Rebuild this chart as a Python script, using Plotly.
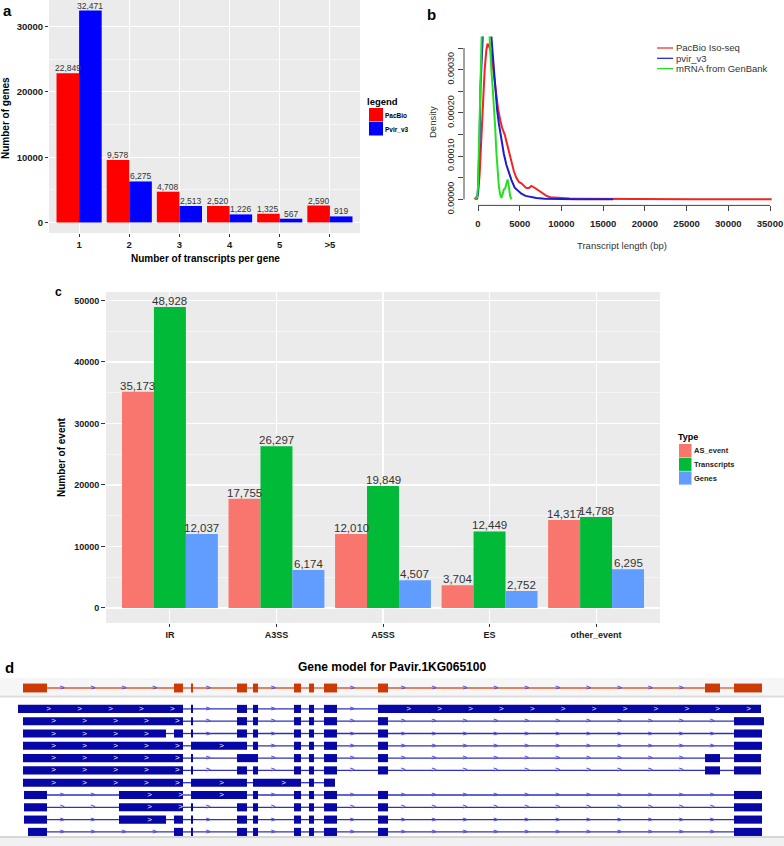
import plotly.graph_objects as go

W, H = 784, 846
FONT = "Liberation Sans, Arial, Helvetica, sans-serif"


def fx(px):
    return px / W


def fy(py):
    return 1 - py / H


# ---------------- Panel a : transcripts per gene ----------------
a_categories = ["1", "2", "3", "4", "5", ">5"]
a_pacbio = [22849, 9578, 4708, 2520, 1325, 2590]
a_pvir_v3 = [32471, 6275, 2513, 1226, 567, 919]
a_yticks = [0, 10000, 20000, 30000]
a_yminor = [5000, 15000, 25000]

# ---------------- Panel b : transcript length density ----------------
b_iso_x = [-400, 0, 200, 400, 600, 800, 1000, 1150, 1300, 1500, 1800, 2100, 2400, 2700,
           2900, 3200, 3400, 3700, 4000, 4300, 4600, 4900, 5200, 5500, 5800, 6100, 6400,
           6700, 7000, 7300, 7600, 7900, 8300, 8700, 9200, 10000, 11000, 12000, 13500,
           15000, 16500, 18000, 19500, 20300, 21000, 23000, 26000, 30000, 33000, 35200]
b_iso_y = [0, 1.0e-5, 6e-5, 1.5e-4, 2.3e-4, 3.0e-4, 3.45e-4, 3.6e-4, 3.55e-4, 3.45e-4,
           3.05e-4, 2.55e-4, 2.1e-4, 1.8e-4, 1.65e-4, 1.5e-4, 1.35e-4, 1.1e-4, 8.5e-5,
           6.5e-5, 5.0e-5, 4.0e-5, 3.7e-5, 3.2e-5, 2.6e-5, 2.6e-5, 3.1e-5, 2.8e-5, 2.4e-5,
           2.0e-5, 1.7e-5, 1.2e-5, 7e-6, 5e-6, 4e-6, 3e-6, 2e-6, 1.5e-6, 1.2e-6, 1e-6,
           8e-7, 7e-7, 6e-7, 1.5e-6, 5e-7, 4e-7, 3e-7, 2e-7, 1e-7, 0]
b_pvir_x = [-250, -100, 0, 100, 200, 300, 400, 500, 700, 900, 1100, 1300, 1500, 1700, 1900,
            2100, 2300, 2500, 2700, 2900, 3100, 3400, 3700, 4000, 4400, 4800, 5200, 5700,
            6300, 7000, 8000, 9000, 10500, 12000, 14000, 16200]
b_pvir_y = [0, 2e-6, 2e-5, 8e-5, 1.5e-4, 2.6e-4, 3.5e-4, 4.2e-4, 4.9e-4, 5.2e-4, 5.0e-4,
            4.5e-4, 3.9e-4, 3.35e-4, 2.9e-4, 2.45e-4, 2.05e-4, 1.75e-4, 1.5e-4, 1.25e-4,
            1.05e-4, 8.0e-5, 6.0e-5, 4.5e-5, 2.7e-5, 2.0e-5, 1.3e-5, 8e-6, 5e-6, 3e-6,
            1.5e-6, 8e-7, 4e-7, 2e-7, 1e-7, 0]
b_mrna_x = [-250, -100, 0, 100, 200, 300, 400, 500, 700, 900, 1100, 1300, 1450, 1600, 1750,
            1900, 2050, 2200, 2350, 2500, 2650, 2800, 2950, 3100, 3250, 3400, 3550, 3700,
            3850, 4000]
b_mrna_y = [0, 5e-6, 3e-5, 1e-4, 1.9e-4, 2.8e-4, 3.6e-4, 4.3e-4, 5.0e-4, 5.2e-4, 4.8e-4,
            4.0e-4, 3.4e-4, 3.0e-4, 2.6e-4, 2.2e-4, 1.7e-4, 1.1e-4, 6e-5, 3e-5, 1.2e-5,
            3e-6, 1.2e-5, 2.3e-5, 2.5e-5, 4.0e-5, 4.6e-5, 3.0e-5, 8e-6, 0]
b_names = ["PacBio Iso-seq", "pvir_v3", "mRNA from GenBank"]
b_colors = ["#f02424", "#1c1cd0", "#22e022"]
b_xticks = [0, 5000, 10000, 15000, 20000, 25000, 30000, 35000]
b_yticks = [0, 0.00005, 0.0001, 0.00015, 0.0002, 0.00025, 0.0003, 0.00035]
b_yticktext = ["0.00000", "", "0.00010", "", "0.00020", "", "0.00030", ""]

# ---------------- Panel c : AS events ----------------
c_categories = ["IR", "A3SS", "A5SS", "ES", "other_event"]
c_as_event = [35173, 17755, 12010, 3704, 14317]
c_transcripts = [48928, 26297, 19849, 12449, 14788]
c_genes = [12037, 6174, 4507, 2752, 6295]
c_types = ["AS_event", "Transcripts", "Genes"]
c_colors = ["#F8766D", "#00BA38", "#619CFF"]
c_yticks = [0, 10000, 20000, 30000, 40000, 50000]
c_yminor = [5000, 15000, 25000, 35000, 45000]

# ---------------- Panel d : gene model (relative bp) ----------------
d_title = "Gene model for Pavir.1KG065100"
d_gene_model = [(230, 470), (1740, 1830), (1910, 1930), (2370, 2470), (2530, 2580),
                (2940, 3010), (3090, 3140), (3240, 3370), (3780, 3880), (7050, 7200),
                (7340, 7620)]
d_transcripts = [
    [(180, 1830), (1910, 1930), (2370, 2470), (2530, 2580), (2940, 3010), (3090, 3140),
     (3240, 3370), (3780, 7610)],
    [(230, 1830), (1910, 1930), (2370, 2470), (2530, 2580), (2940, 3010), (3090, 3140),
     (3240, 3370), (3780, 3880), (7340, 7640)],
    [(230, 1660), (1740, 1830), (1910, 1930), (2370, 2470), (2530, 2580), (2940, 3010),
     (3090, 3140), (3240, 3370), (3780, 3880), (7340, 7620)],
    [(230, 1830), (1910, 2470), (2530, 2580), (2940, 3010), (3090, 3140), (3240, 3370),
     (3780, 3880), (7340, 7620)],
    [(230, 1830), (1910, 1930), (2370, 2580), (2940, 3010), (3090, 3140), (3240, 3370),
     (3780, 3880), (7050, 7200), (7340, 7610)],
    [(230, 1830), (1910, 1930), (2370, 2470), (2530, 2580), (2940, 3010), (3090, 3140),
     (3240, 3370), (3780, 3880), (7050, 7200), (7340, 7610)],
    [(230, 1830), (1910, 2470), (2530, 3010), (3090, 3140), (3240, 3350)],
    [(240, 470), (1190, 1830), (1910, 2470), (2530, 2580), (2940, 3010), (3090, 3140),
     (3240, 3370), (3780, 3880), (7340, 7620)],
    [(240, 470), (1190, 1830), (1910, 1930), (2370, 2470), (2530, 2580), (2940, 3010),
     (3090, 3140), (3240, 3370), (3780, 3880), (7340, 7620)],
    [(240, 470), (1190, 1660), (1740, 1830), (1910, 1930), (2370, 2470), (2530, 2580),
     (2940, 3010), (3090, 3140), (3240, 3370), (3780, 3880), (7340, 7620)],
    [(280, 470), (1740, 1830), (1910, 1930), (2370, 2470), (2530, 2580), (2940, 3010),
     (3090, 3140), (3240, 3370), (3780, 3880), (7340, 7620)],
]

fig = go.Figure()
annotations = []

# ---------- panel a traces ----------
a_series = [("PacBio", a_pacbio, "#FF0000"), ("Pvir_v3", a_pvir_v3, "#0000FF")]
for k, (name, vals, col) in enumerate(a_series):
    fig.add_trace(go.Bar(
        x=a_categories, y=vals, name=name, marker=dict(color=col, line=dict(width=0)),
        xaxis="x", yaxis="y", showlegend=False, hoverinfo="skip"))
    off = (k - 0.5) * 0.45
    for i, v in enumerate(vals):
        annotations.append(dict(xref="x", yref="y", x=i + off, y=v, text=f"{v:,}",
                                showarrow=False, yanchor="bottom", xanchor="center", yshift=-2,
                                font=dict(size=8.5, color="#333333", family=FONT)))

# ---------- panel b traces ----------
for xs, ys, col in [(b_iso_x, b_iso_y, b_colors[0]), (b_pvir_x, b_pvir_y, b_colors[1]),
                    (b_mrna_x, b_mrna_y, b_colors[2])]:
    fig.add_trace(go.Scatter(x=xs, y=ys, mode="lines", line=dict(color=col, width=2),
                             xaxis="x2", yaxis="y2", showlegend=False, hoverinfo="skip"))

# ---------- panel c traces ----------
c_series = [c_as_event, c_transcripts, c_genes]
for k, (name, vals, col) in enumerate(zip(c_types, c_series, c_colors)):
    fig.add_trace(go.Bar(
        x=c_categories, y=vals, name=name, marker=dict(color=col, line=dict(width=0)),
        xaxis="x3", yaxis="y3", showlegend=False, hoverinfo="skip"))
    off = (k - 1) * 0.3
    for i, v in enumerate(vals):
        annotations.append(dict(xref="x3", yref="y3", x=i + off, y=v, text=f"{v:,}",
                                showarrow=False, yanchor="bottom", xanchor="center", yshift=-2,
                                font=dict(size=11.5, color="#333333", family=FONT)))

# ---------- panel d traces ----------
ROW_RED = 0.0
rows_blue = [1.7 + i for i in range(len(d_transcripts))]
PXU = 12.3  # pixels per row unit


def vrow(py):
    return (py - 688) / PXU


def add_track(exons, row, exon_col, line_col, h):
    lx, ly, ax, ay, cx, cy = [], [], [], [], [], []
    for (s1, e1), (s2, e2) in zip(exons[:-1], exons[1:]):
        if s2 > e1:
            lx += [e1, s2, None]
            ly += [row, row, None]
            p = e1 + 150
            while p < s2 - 40:
                ax.append(p)
                ay.append(row)
                p += 309
    for s, e in exons:
        p = s + 307
        while p < e - 10:
            cx.append(p)
            cy.append(row)
            p += 309
    fig.add_trace(go.Scatter(x=lx, y=ly, mode="lines", line=dict(color=line_col, width=1.3),
                             xaxis="x4", yaxis="y4", showlegend=False, hoverinfo="skip"))
    fig.add_trace(go.Bar(orientation="h", base=[s for s, e in exons], x=[e - s for s, e in exons],
                         y=[row] * len(exons), width=h, offset=-h / 2,
                         marker=dict(color=exon_col, line=dict(width=0)),
                         xaxis="x4", yaxis="y4", showlegend=False, hoverinfo="skip"))
    if ax:
        fig.add_trace(go.Scatter(x=ax, y=ay, mode="text", text=[">"] * len(ax),
                                 textfont=dict(size=8, color="#4c4cdc", family=FONT, weight="bold"),
                                 xaxis="x4", yaxis="y4", showlegend=False, hoverinfo="skip"))
    if cx:
        fig.add_trace(go.Scatter(x=cx, y=cy, mode="text", text=[">"] * len(cx),
                                 textfont=dict(size=8, color="#ffffff", family=FONT),
                                 xaxis="x4", yaxis="y4", showlegend=False, hoverinfo="skip"))


add_track(d_gene_model, ROW_RED, "#cc3a06", "#e0582c", 0.72)
for ex, r in zip(d_transcripts, rows_blue):
    add_track(ex, r, "#0707a6", "#3030c0", 0.66)

# ---------- shapes ----------
shapes = []
for xa, ya in [("x", "y"), ("x3", "y3")]:
    shapes.append(dict(type="rect", xref=f"{xa} domain", yref=f"{ya} domain", x0=0, x1=1, y0=0, y1=1,
                       fillcolor="#EBEBEB", line=dict(width=0), layer="below"))
# panel b axis lines (base R style: from first to last tick)
shapes.append(dict(type="line", xref="x2", yref="y2 domain", x0=min(b_xticks), x1=max(b_xticks),
                   y0=0, y1=0, line=dict(color="#444444", width=1)))
shapes.append(dict(type="line", xref="x2 domain", yref="y2", x0=0, x1=0, y0=min(b_yticks),
                   y1=max(b_yticks), line=dict(color="#444444", width=1)))
# panel d track background
shapes += [
    dict(type="rect", xref="paper", yref="y4", x0=0, x1=1, y0=vrow(678), y1=vrow(695.5),
         fillcolor="#f6f6f6", line=dict(width=0), layer="below"),
    dict(type="line", xref="paper", yref="y4", x0=0, x1=1, y0=vrow(696.5), y1=vrow(696.5),
         line=dict(color="#dcdcdc", width=2), layer="below"),
    dict(type="line", xref="paper", yref="y4", x0=0, x1=1, y0=vrow(837), y1=vrow(837),
         line=dict(color="#d6d6d6", width=2), layer="below"),
    dict(type="rect", xref="paper", yref="y4", x0=0, x1=1, y0=vrow(838), y1=vrow(846),
         fillcolor="#f1f1f1", line=dict(width=0), layer="below"),
]


def txt(x, y, s, size, bold=False, color="#000000", xanchor="center", angle=0):
    annotations.append(dict(xref="paper", yref="paper", x=fx(x), y=fy(y), text=s, showarrow=False,
                            xanchor=xanchor, yanchor="middle", textangle=angle, borderpad=0,
                            font=dict(size=size, color=color, family=FONT,
                                      weight="bold" if bold else "normal")))


# legend a
txt(366, 102, "legend", 9.5, True, xanchor="left")
for i, (lab, col) in enumerate([("PacBio", "#FF0000"), ("Pvir_v3", "#0000FF")]):
    y0 = 108 + i * 14
    shapes.append(dict(type="rect", xref="paper", yref="paper", x0=fx(369), x1=fx(383),
                       y0=fy(y0 + 13.5), y1=fy(y0), fillcolor=col, line=dict(width=0)))
    txt(384, y0 + 7, lab, 6.5, True, xanchor="left")

# legend b
for i, (lab, col) in enumerate(zip(b_names, b_colors)):
    yy = 48 + i * 10.3
    shapes.append(dict(type="line", xref="paper", yref="paper", x0=fx(657), x1=fx(673),
                       y0=fy(yy), y1=fy(yy), line=dict(color=col, width=1.2)))
    txt(675, yy, lab, 9.5, False, "#333333", xanchor="left")

# legend c
txt(677, 437, "Type", 9, True, xanchor="left")
for i, (lab, col) in enumerate(zip(c_types, c_colors)):
    y0 = 444 + i * 13.7
    shapes.append(dict(type="rect", xref="paper", yref="paper", x0=fx(679), x1=fx(691.5),
                       y0=fy(y0 + 13.2), y1=fy(y0), fillcolor=col, line=dict(width=0)))
    txt(693, y0 + 6.8, lab, 7.5, True, "#222222", xanchor="left")

# panel letters, axis titles
txt(8, 10, "a", 15, True)
txt(431, 14, "b", 15, True)
txt(58, 292, "c", 12, True)
txt(9, 667, "d", 15, True)
txt(392, 667, d_title, 12, True)
txt(205, 258, "Number of transcripts per gene", 10, True)
txt(6, 118, "Number of genes", 10, True, angle=-90)
txt(433, 122, "Density", 9.5, False, "#333333", angle=-90)
txt(622, 245, "Transcript length (bp)", 9.5, False, "#333333")
txt(62, 457, "Number of event", 10, True, angle=-90)

tick_bold = dict(size=9.5, color="#1a1a1a", family=FONT, weight="bold")
common = dict(automargin=False, fixedrange=True, zeroline=False, showline=False)

fig.update_layout(
    template="none",
    width=W, height=H, margin=dict(l=0, r=0, t=0, b=0, pad=0),
    paper_bgcolor="white", plot_bgcolor="rgba(0,0,0,0)",
    barmode="group", bargap=0.1, bargroupgap=0,
    hovermode=False, showlegend=False,
    font=dict(family=FONT),
    shapes=shapes, annotations=annotations,
    # panel a
    xaxis=dict(domain=[fx(49), fx(360)], anchor="y", type="category", range=[-0.6, 5.6],
               showgrid=True, gridcolor="white", gridwidth=1.1, ticks="outside", ticklen=3,
               tickcolor="#333333", tickfont=tick_bold, **common),
    yaxis=dict(domain=[fy(233), fy(0)], anchor="x", range=[-1624, 34095], tickvals=a_yticks,
               ticktext=[str(v) for v in a_yticks],
               showgrid=True, gridcolor="white", gridwidth=1.1, ticks="outside", ticklen=3,
               tickcolor="#333333", tickfont=tick_bold,
               minor=dict(tickvals=a_yminor, showgrid=True, gridcolor="white", gridwidth=0.5,
                          ticks=""), **common),
    # panel b
    xaxis2=dict(domain=[fx(464), 1.0], anchor="y2", range=[-1678, 36678], tickvals=b_xticks,
                ticktext=[str(v) for v in b_xticks],
                showgrid=False, ticks="outside", ticklen=5,
                tickcolor="#444444", ticklabelstandoff=4,
                tickfont=dict(size=9.5, color="#222222", family=FONT, weight="bold"), **common),
    yaxis2=dict(domain=[fy(205.4), fy(36.4)], anchor="x2", range=[-0.000014, 0.000377],
                tickvals=b_yticks, ticktext=b_yticktext, tickangle=-90, showgrid=False,
                ticks="outside", ticklen=5, tickcolor="#444444",
                tickfont=dict(size=9, color="#222222", family=FONT), **common),
    # panel c
    xaxis3=dict(domain=[fx(106), fx(660)], anchor="y3", type="category", range=[-0.6, 4.6],
                showgrid=True, gridcolor="white", gridwidth=1.1, ticks="outside", ticklen=3,
                tickcolor="#333333", tickfont=dict(size=9, color="#1a1a1a", family=FONT,
                                                   weight="bold"), **common),
    yaxis3=dict(domain=[fy(623), fy(292)], anchor="x3", range=[-2446, 51374], tickvals=c_yticks,
                ticktext=[str(v) for v in c_yticks],
                showgrid=True, gridcolor="white", gridwidth=1.1, ticks="outside", ticklen=4,
                tickcolor="#333333", tickfont=dict(size=9, color="#1a1a1a", family=FONT,
                                                   weight="bold"),
                minor=dict(tickvals=c_yminor, showgrid=True, gridcolor="white", gridwidth=0.5,
                           ticks=""), **common),
    # panel d
    xaxis4=dict(domain=[0, 1], anchor="y4", range=[0, 7840], visible=False, **common),
    yaxis4=dict(domain=[0, fy(672)], anchor="x4", range=[vrow(846), vrow(672)], visible=False,
                **common),
)

fig.write_html(
    "out.html",
    config={"displayModeBar": False, "staticPlot": True},
    post_script="document.body.style.margin='0';document.body.style.padding='0';"
                "document.body.style.overflow='hidden';",
)
